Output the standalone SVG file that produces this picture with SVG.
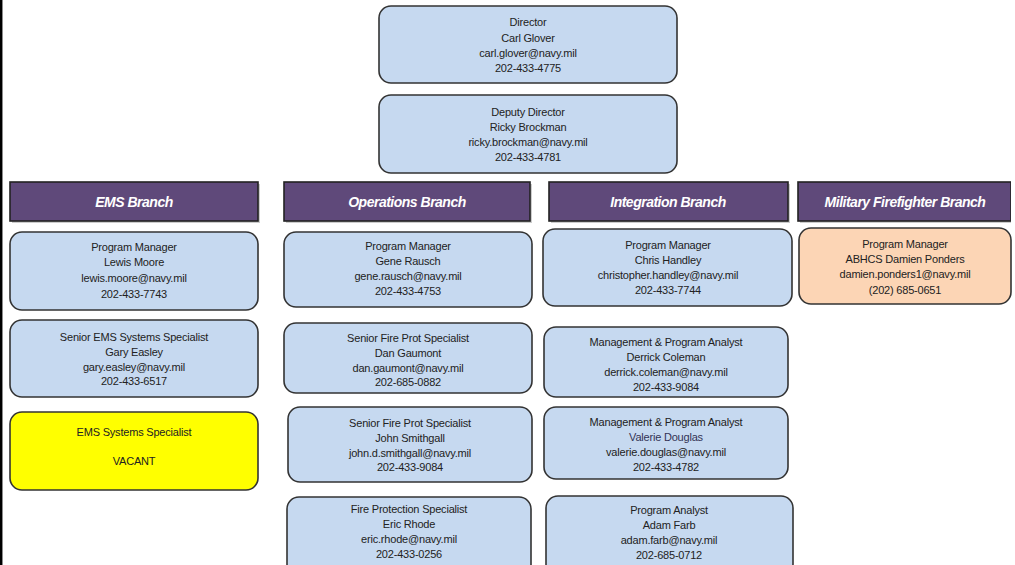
<svg xmlns="http://www.w3.org/2000/svg" width="1015" height="565" viewBox="0 0 1015 565">
<defs>
<style>
.box{fill:#C6D9F0;stroke:#333;stroke-width:1.6}
.org{fill:#FCD5B5;stroke:#333;stroke-width:1.6}
.yel{fill:#FFFF00;stroke:#333;stroke-width:1.6}
.hdr{fill:#5F497A;stroke:#222;stroke-width:1.6}
.sh{fill:#9a9a9a;opacity:0.5}
.t{font-family:"Liberation Sans",Arial,sans-serif;font-size:11px;letter-spacing:-0.2px;fill:#222;text-anchor:middle}
.h{font-family:"Liberation Sans",Arial,sans-serif;font-size:14px;font-weight:bold;font-style:italic;letter-spacing:-0.5px;fill:#fff;text-anchor:middle}
</style>
<clipPath id="edge"><rect x="0" y="0" width="1011" height="565"/></clipPath>
</defs>
<rect x="0" y="0" width="1015" height="565" fill="#fff"/>
<line x1="1.2" y1="0" x2="1.2" y2="565" stroke="#000" stroke-width="2.5"/>
<g id="connectors"/>

<g id="director">
<rect class="box" x="379" y="6" width="298" height="77" rx="12"/>
<text class="t" x="528" y="26">Director</text>
<text class="t" x="528" y="42">Carl Glover</text>
<text class="t" x="528" y="57">carl.glover@navy.mil</text>
<text class="t" x="528" y="72">202-433-4775</text>
</g>
<g id="deputy">
<rect class="box" x="379" y="95" width="298" height="78" rx="12"/>
<text class="t" x="528" y="116">Deputy Director</text>
<text class="t" x="528" y="131">Ricky Brockman</text>
<text class="t" x="528" y="146">ricky.brockman@navy.mil</text>
<text class="t" x="528" y="161">202-433-4781</text>
</g>

<g id="hdr-ems">
<rect class="sh" x="12" y="184" width="248" height="39"/>
<rect class="hdr" x="10" y="182" width="248" height="39"/>
<text class="h" x="134" y="207">EMS Branch</text>
</g>
<g id="hdr-ops">
<rect class="sh" x="286" y="184" width="246" height="39"/>
<rect class="hdr" x="284" y="182" width="246" height="39"/>
<text class="h" x="407" y="207">Operations Branch</text>
</g>
<g id="hdr-int">
<rect class="sh" x="551" y="184" width="239" height="39"/>
<rect class="hdr" x="549" y="182" width="239" height="39"/>
<text class="h" x="668" y="207">Integration Branch</text>
</g>
<g id="hdr-mil" clip-path="url(#edge)">
<rect class="sh" x="800" y="184" width="213" height="39"/>
<rect class="hdr" x="798" y="182" width="213" height="39"/>
<text class="h" x="905" y="207">Military Firefighter Branch</text>
</g>

<g id="ems-pm">
<rect class="box" x="10" y="232" width="248" height="78" rx="12"/>
<text class="t" x="134" y="251">Program Manager</text>
<text class="t" x="134" y="266">Lewis Moore</text>
<text class="t" x="134" y="282">lewis.moore@navy.mil</text>
<text class="t" x="134" y="298">202-433-7743</text>
</g>
<g id="ems-senior">
<rect class="box" x="10" y="320" width="248" height="77" rx="12"/>
<text class="t" x="134" y="341">Senior EMS Systems Specialist</text>
<text class="t" x="134" y="356">Gary Easley</text>
<text class="t" x="134" y="371">gary.easley@navy.mil</text>
<text class="t" x="134" y="385">202-433-6517</text>
</g>
<g id="ems-vacant">
<rect class="yel" x="10" y="412" width="248" height="78" rx="12"/>
<text class="t" x="134" y="436">EMS Systems Specialist</text>
<text class="t" x="134" y="465">VACANT</text>
</g>

<g id="ops-pm">
<rect class="box" x="284" y="232" width="248" height="75" rx="12"/>
<text class="t" x="408" y="250">Program Manager</text>
<text class="t" x="408" y="265">Gene Rausch</text>
<text class="t" x="408" y="280">gene.rausch@navy.mil</text>
<text class="t" x="408" y="295">202-433-4753</text>
</g>
<g id="ops-gaumont">
<rect class="box" x="284" y="323" width="248" height="70" rx="12"/>
<text class="t" x="408" y="342">Senior Fire Prot Specialist</text>
<text class="t" x="408" y="357">Dan Gaumont</text>
<text class="t" x="408" y="372">dan.gaumont@navy.mil</text>
<text class="t" x="408" y="386">202-685-0882</text>
</g>
<g id="ops-smithgall">
<rect class="box" x="288" y="407" width="244" height="75" rx="12"/>
<text class="t" x="410" y="427">Senior Fire Prot Specialist</text>
<text class="t" x="410" y="442">John Smithgall</text>
<text class="t" x="410" y="457">john.d.smithgall@navy.mil</text>
<text class="t" x="410" y="471">202-433-9084</text>
</g>
<g id="ops-rhode">
<rect class="box" x="287" y="497" width="244" height="80" rx="12"/>
<text class="t" x="409" y="513">Fire Protection Specialist</text>
<text class="t" x="409" y="528">Eric Rhode</text>
<text class="t" x="409" y="543">eric.rhode@navy.mil</text>
<text class="t" x="409" y="558">202-433-0256</text>
</g>

<g id="int-pm">
<rect class="box" x="543" y="229" width="249" height="77" rx="12"/>
<text class="t" x="668" y="249">Program Manager</text>
<text class="t" x="668" y="264">Chris Handley</text>
<text class="t" x="668" y="279">christopher.handley@navy.mil</text>
<text class="t" x="668" y="294">202-433-7744</text>
</g>
<g id="int-coleman">
<rect class="box" x="544" y="327" width="244" height="70" rx="12"/>
<text class="t" x="666" y="346">Management &amp; Program Analyst</text>
<text class="t" x="666" y="361">Derrick Coleman</text>
<text class="t" x="666" y="376">derrick.coleman@navy.mil</text>
<text class="t" x="666" y="391">202-433-9084</text>
</g>
<g id="int-douglas">
<rect class="box" x="544" y="407" width="244" height="72" rx="12"/>
<text class="t" x="666" y="426">Management &amp; Program Analyst</text>
<text class="t" x="666" y="441" style="fill:#333355">Valerie Douglas</text>
<text class="t" x="666" y="456">valerie.douglas@navy.mil</text>
<text class="t" x="666" y="471">202-433-4782</text>
</g>
<g id="int-farb">
<rect class="box" x="546" y="496" width="247" height="80" rx="12"/>
<text class="t" x="669" y="514">Program Analyst</text>
<text class="t" x="669" y="529">Adam Farb</text>
<text class="t" x="669" y="544">adam.farb@navy.mil</text>
<text class="t" x="669" y="559">202-685-0712</text>
</g>

<g id="mil-pm">
<rect class="org" x="799" y="228" width="212" height="76" rx="12"/>
<text class="t" x="905" y="248">Program Manager</text>
<text class="t" x="905" y="263">ABHCS Damien Ponders</text>
<text class="t" x="905" y="278">damien.ponders1@navy.mil</text>
<text class="t" x="905" y="294">(202) 685-0651</text>
</g>
</svg>
